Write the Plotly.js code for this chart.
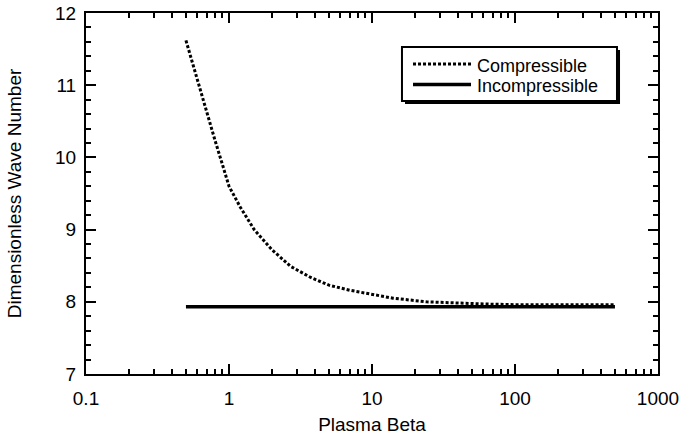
<!DOCTYPE html>
<html>
<head>
<meta charset="utf-8">
<script src="https://cdn.plot.ly/plotly-3.0.1.min.js"></script>
<style>html,body{margin:0;padding:0;background:#fff;}#chart{width:697px;height:445px;}</style>
</head>
<body>
<div id="chart"></div>
<script>
// Plasma beta values (x) and dimensionless wave number (y)
const betaCompressible = [0.5, 0.6, 0.7, 0.8, 0.9, 1.0, 1.2, 1.5, 2, 2.7, 3.7, 5, 7, 10, 14, 24, 40, 60, 100, 200, 500];
const waveCompressible = [11.62, 11.07, 10.62, 10.23, 9.90, 9.60, 9.31, 9.0, 8.72, 8.49, 8.34, 8.23, 8.16, 8.10, 8.05, 8.00, 7.98, 7.97, 7.96, 7.96, 7.96];
const betaIncompressible = [0.5, 500];
const waveIncompressible = [7.93, 7.93];
const seriesNames = ["Compressible", "Incompressible"];
const xTickVals = [0.1, 1, 10, 100, 1000];
const xTickText = ["0.1", "1", "10", "100", "1000"];
const xTitle = "Plasma Beta";
const yTitle = "Dimensionless Wave Number";

const FONT = "Arial, 'Liberation Sans', Helvetica, sans-serif";
const DOT = "3px,2px";

const traces = [
  {x: betaCompressible, y: waveCompressible, name: seriesNames[0], mode: "lines",
   line: {color: "#000", width: 3, dash: DOT}},
  {x: betaIncompressible, y: waveIncompressible, name: seriesNames[1], mode: "lines",
   line: {color: "#000", width: 3.5}}
];

const axisCommon = {
  showline: true, linecolor: "#000", linewidth: 2, mirror: "ticks",
  ticks: "inside", ticklen: 10, tickwidth: 2, tickcolor: "#000",
  showgrid: false, zeroline: false,
  tickfont: {family: FONT, size: 19, color: "#000"}
};

// Legend box (drawn as a framed box with drop shadow, like the original)
const lg = {x0: 0.5524, x1: 0.9283, y0: 0.7562, y1: 0.9058, sx: 0.0053, sy: 0.0083,
            lx0: 0.5717, lx1: 0.6731, row1: 0.8587, row2: 0.8019, tx: 0.6818, t1: 0.8532, t2: 0.7964};

const layout = {
  width: 697, height: 445,
  margin: {l: 86, r: 39, t: 13, b: 71},
  paper_bgcolor: "#fff", plot_bgcolor: "#fff",
  font: {family: FONT, color: "#000"},
  showlegend: false,
  shapes: [
    {type: "rect", xref: "paper", yref: "paper", layer: "above",
     x0: lg.x0 + lg.sx, x1: lg.x1 + lg.sx, y0: lg.y0 - lg.sy, y1: lg.y1 - lg.sy,
     fillcolor: "#000", line: {width: 0}},
    {type: "rect", xref: "paper", yref: "paper", layer: "above",
     x0: lg.x0, x1: lg.x1, y0: lg.y0, y1: lg.y1,
     fillcolor: "#fff", line: {color: "#000", width: 2}},
    {type: "line", xref: "paper", yref: "paper", layer: "above",
     x0: lg.lx0, x1: lg.lx1, y0: lg.row1, y1: lg.row1,
     line: {color: "#000", width: 3, dash: DOT}},
    {type: "line", xref: "paper", yref: "paper", layer: "above",
     x0: lg.lx0, x1: lg.lx1, y0: lg.row2, y1: lg.row2,
     line: {color: "#000", width: 3.5}}
  ],
  annotations: [
    {xref: "paper", yref: "paper", x: lg.tx, y: lg.t1, xanchor: "left", yanchor: "middle",
     borderpad: 0, text: seriesNames[0], showarrow: false, font: {family: FONT, size: 18, color: "#000"}},
    {xref: "paper", yref: "paper", x: lg.tx, y: lg.t2, xanchor: "left", yanchor: "middle",
     borderpad: 0, text: seriesNames[1], showarrow: false, font: {family: FONT, size: 18, color: "#000"}}
  ],
  xaxis: Object.assign({}, axisCommon, {
    type: "log", range: [-1, 3],
    tickvals: xTickVals, ticktext: xTickText,
    ticklabelstandoff: 6,
    minor: {ticks: "inside", ticklen: 5, tickwidth: 2, tickcolor: "#000", dtick: "D1", showgrid: false},
    title: {text: xTitle, font: {family: FONT, size: 19, color: "#000"}, standoff: 10}
  }),
  yaxis: Object.assign({}, axisCommon, {
    range: [7, 12], dtick: 1, tick0: 7,
    ticklabelstandoff: 4,
    minor: {ticks: "inside", ticklen: 5, tickwidth: 2, tickcolor: "#000", dtick: 0.2, showgrid: false},
    title: {text: yTitle, font: {family: FONT, size: 19, color: "#000"}, standoff: 28}
  })
};

Plotly.newPlot("chart", traces, layout, {displayModeBar: false, staticPlot: true});
</script>
</body>
</html>
